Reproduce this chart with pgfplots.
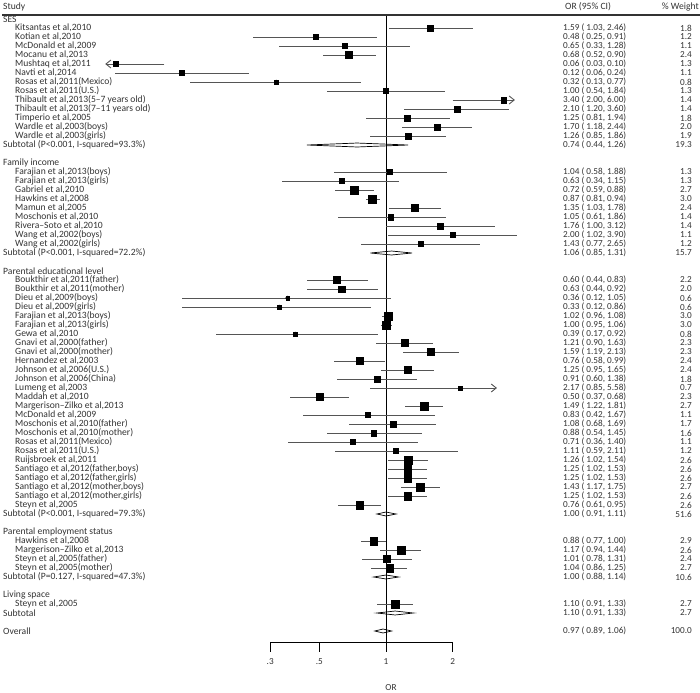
\documentclass[border=0pt]{standalone}
\usepackage{pgfplots}
\pgfplotsset{compat=1.18}
\usepackage{pgfplotstable}
\usepackage{fontspec}
\setmainfont{Carlito}
\usetikzlibrary{arrows.meta}
\definecolor{txt}{HTML}{333333}
\definecolor{ci}{HTML}{555555}
\newcommand\fs{\fontsize{9.2bp}{10bp}\selectfont}
\newcommand\fl{\fontsize{9.6bp}{10bp}\selectfont}

% row = line number in the forest plot (0 = header)
\pgfplotstableread{
row or lo hi w
2 1.59 1.03 2.46 1.8
3 0.48 0.25 0.91 1.2
4 0.65 0.33 1.28 1.1
5 0.68 0.52 0.90 2.4
6 0.06 0.03 0.10 1.3
7 0.12 0.06 0.24 1.1
8 0.32 0.13 0.77 0.8
9 1.00 0.54 1.84 1.3
10 3.40 2.00 6.00 1.4
11 2.10 1.20 3.60 1.4
12 1.25 0.81 1.94 1.8
13 1.70 1.18 2.44 2.0
14 1.26 0.85 1.86 1.9
18 1.04 0.58 1.88 1.3
19 0.63 0.34 1.15 1.3
20 0.72 0.59 0.88 2.7
21 0.87 0.81 0.94 3.0
22 1.35 1.03 1.78 2.4
23 1.05 0.61 1.86 1.4
24 1.76 1.00 3.12 1.4
25 2.00 1.02 3.90 1.1
26 1.43 0.77 2.65 1.2
30 0.60 0.44 0.83 2.2
31 0.63 0.44 0.92 2.0
32 0.36 0.12 1.05 0.6
33 0.33 0.12 0.86 0.6
34 1.02 0.96 1.08 3.0
35 1.00 0.95 1.06 3.0
36 0.39 0.17 0.92 0.8
37 1.21 0.90 1.63 2.3
38 1.59 1.19 2.13 2.3
39 0.76 0.58 0.99 2.4
40 1.25 0.95 1.65 2.4
41 0.91 0.60 1.38 1.8
42 2.17 0.85 5.58 0.7
43 0.50 0.37 0.68 2.3
44 1.49 1.22 1.81 2.7
45 0.83 0.42 1.67 1.1
46 1.08 0.68 1.69 1.7
47 0.88 0.54 1.45 1.6
48 0.71 0.36 1.40 1.1
49 1.11 0.59 2.11 1.2
50 1.26 1.02 1.54 2.6
51 1.25 1.02 1.53 2.6
52 1.25 1.02 1.53 2.6
53 1.43 1.17 1.75 2.7
54 1.25 1.02 1.53 2.6
55 0.76 0.61 0.95 2.6
59 0.88 0.77 1.00 2.9
60 1.17 0.94 1.44 2.6
61 1.01 0.78 1.31 2.4
62 1.04 0.86 1.25 2.7
66 1.10 0.91 1.33 2.7
}\studies

\begin{document}
\begin{tikzpicture}
\path[use as bounding box] (0,0) rectangle (700bp,693bp);
\begin{axis}[at={(0,0)}, anchor=south west, scale only axis,
  width=700bp, height=693bp, xmode=log, xmin=0.018089, xmax=26.16,
  ymin=-1.1111, ymax=75.8889, y dir=reverse, hide axis, clip=false]
% pooled diamonds
\addplot[draw=black, fill=white, line width=0.7bp] coordinates {(0.44,15)(0.74,14.78)(1.26,15)(0.74,15.22)} -- cycle;
\addplot[draw=black, fill=white, line width=0.7bp] coordinates {(0.85,27)(1.06,26.78)(1.31,27)(1.06,27.22)} -- cycle;
\addplot[draw=black, fill=white, line width=0.7bp] coordinates {(0.91,56)(1.00,55.78)(1.11,56)(1.00,56.22)} -- cycle;
\addplot[draw=black, fill=white, line width=0.7bp] coordinates {(0.88,63)(1.00,62.78)(1.14,63)(1.00,63.22)} -- cycle;
\addplot[draw=black, fill=white, line width=0.7bp] coordinates {(0.91,67)(1.10,66.78)(1.33,67)(1.10,67.22)} -- cycle;
\addplot[draw=black, fill=white, line width=0.7bp] coordinates {(0.89,69)(0.97,68.78)(1.06,69)(0.97,69.22)} -- cycle;
% line of no effect
\addplot[black, line width=0.9bp] coordinates {(1,0.556)(1,70.22)};
% confidence intervals
\addplot[only marks, mark=none,
  skip coords between index={4}{5}, skip coords between index={8}{9},
  skip coords between index={34}{35},
  error bars/.cd, x dir=both, x explicit, error mark=none,
  error bar style={draw=ci, line width=0.9bp}]
  table[x=or, y=row, x error plus expr=\thisrow{hi}-\thisrow{or},
        x error minus expr=\thisrow{or}-\thisrow{lo}] {\studies};
% truncated intervals
\addplot[ci, line width=0.9bp, -{Straight Barb[length=5bp,width=8bp]}] coordinates {(0.10,6)(0.054,6)};
\addplot[ci, line width=0.9bp, -{Straight Barb[length=5bp,width=8bp]}] coordinates {(2.00,10)(3.82,10)};
\addplot[ci, line width=0.9bp, -{Straight Barb[length=5bp,width=8bp]}] coordinates {(0.85,42)(3.17,42)};
% study squares
\addplot[scatter, only marks, mark=square*,
  scatter/use mapped color={draw=black, fill=black},
  visualization depends on={2.3*sqrt(\thisrow{w}) \as \msz},
  scatter/@pre marker code/.append style={/tikz/mark size=\msz},
  point meta=\thisrow{w}] table[x=or, y=row] {\studies};
\end{axis}

\begin{axis}[at={(270.18bp,51bp)}, anchor=south west, scale only axis,
  width=182.5bp, height=10bp, xmode=log, xmin=0.3, xmax=2, ymin=0, ymax=1,
  axis x line*=bottom, hide y axis, x axis line style={-, line width=0.9bp},
  xtick={0.3,0.5,1,2}, xticklabels={.3,.5,1,2}, xminorticks=false,
  tick align=outside, major tick length=10bp,
  tick style={black, line width=0.9bp},
  ticklabel style={font=\fs, text=txt}, xticklabel style={yshift=-3.5bp}]
\addplot[draw=none] coordinates {(1,0.5)};
\end{axis}

\begin{scope}[x=1bp, y=-9bp, shift={(0,683bp)}, every node/.style={inner sep=0pt, text=txt, font=\fl}]
\draw[black!80, line width=1.2bp] (2,0.556) -- (700,0.556);
\node[anchor=west] at (3,-0.33) {Study};
\node[anchor=west] at (565,-0.33) {OR (95\% CI)};
\node[anchor=east] at (699,-0.33) {\% Weight};
% group headers / subtotals
\node[anchor=west] at (3,1) {SES};
\node[anchor=west] at (3,15) {Subtotal (P<0.001, I-squared=93.3\%)};
\node[anchor=west] at (3,17) {Family income};
\node[anchor=west] at (3,27) {Subtotal (P<0.001, I-squared=72.2\%)};
\node[anchor=west] at (3,29) {Parental educational level};
\node[anchor=west] at (3,56) {Subtotal (P<0.001, I-squared=79.3\%)};
\node[anchor=west] at (3,58) {Parental employment status};
\node[anchor=west] at (3,63) {Subtotal (P=0.127, I-squared=47.3\%)};
\node[anchor=west] at (3,65) {Living space};
\node[anchor=west] at (3,67) {Subtotal};
\node[anchor=west] at (3,69) {Overall};
% studies
\node[anchor=west] at (15,2) {Kitsantas et al,2010};
\node[anchor=west] at (15,3) {Kotian et al,2010};
\node[anchor=west] at (15,4) {McDonald et al,2009};
\node[anchor=west] at (15,5) {Mocanu et al,2013};
\node[anchor=west] at (15,6) {Mushtaq et al,2011};
\node[anchor=west] at (15,7) {Navti et al,2014};
\node[anchor=west] at (15,8) {Rosas et al,2011(Mexico)};
\node[anchor=west] at (15,9) {Rosas et al,2011(U.S.)};
\node[anchor=west] at (15,10) {Thibault et al,2013(5–7 years old)};
\node[anchor=west] at (15,11) {Thibault et al,2013(7–11 years old)};
\node[anchor=west] at (15,12) {Timperio et al,2005};
\node[anchor=west] at (15,13) {Wardle et al,2003(boys)};
\node[anchor=west] at (15,14) {Wardle et al,2003(girls)};
\node[anchor=west] at (15,18) {Farajian et al,2013(boys)};
\node[anchor=west] at (15,19) {Farajian et al,2013(girls)};
\node[anchor=west] at (15,20) {Gabriel et al,2010};
\node[anchor=west] at (15,21) {Hawkins et al,2008};
\node[anchor=west] at (15,22) {Mamun et al,2005};
\node[anchor=west] at (15,23) {Moschonis et al,2010};
\node[anchor=west] at (15,24) {Rivera–Soto et al,2010};
\node[anchor=west] at (15,25) {Wang et al,2002(boys)};
\node[anchor=west] at (15,26) {Wang et al,2002(girls)};
\node[anchor=west] at (15,30) {Boukthir et al,2011(father)};
\node[anchor=west] at (15,31) {Boukthir et al,2011(mother)};
\node[anchor=west] at (15,32) {Dieu et al,2009(boys)};
\node[anchor=west] at (15,33) {Dieu et al,2009(girls)};
\node[anchor=west] at (15,34) {Farajian et al,2013(boys)};
\node[anchor=west] at (15,35) {Farajian et al,2013(girls)};
\node[anchor=west] at (15,36) {Gewa et al,2010};
\node[anchor=west] at (15,37) {Gnavi et al,2000(father)};
\node[anchor=west] at (15,38) {Gnavi et al,2000(mother)};
\node[anchor=west] at (15,39) {Hernandez et al,2003};
\node[anchor=west] at (15,40) {Johnson et al,2006(U.S.)};
\node[anchor=west] at (15,41) {Johnson et al,2006(China)};
\node[anchor=west] at (15,42) {Lumeng et al,2003};
\node[anchor=west] at (15,43) {Maddah et al,2010};
\node[anchor=west] at (15,44) {Margerison–Zilko et al,2013};
\node[anchor=west] at (15,45) {McDonald et al,2009};
\node[anchor=west] at (15,46) {Moschonis et al,2010(father)};
\node[anchor=west] at (15,47) {Moschonis et al,2010(mother)};
\node[anchor=west] at (15,48) {Rosas et al,2011(Mexico)};
\node[anchor=west] at (15,49) {Rosas et al,2011(U.S.)};
\node[anchor=west] at (15,50) {Ruijsbroek et al,2011};
\node[anchor=west] at (15,51) {Santiago et al,2012(father,boys)};
\node[anchor=west] at (15,52) {Santiago et al,2012(father,girls)};
\node[anchor=west] at (15,53) {Santiago et al,2012(mother,boys)};
\node[anchor=west] at (15,54) {Santiago et al,2012(mother,girls)};
\node[anchor=west] at (15,55) {Steyn et al,2005};
\node[anchor=west] at (15,59) {Hawkins et al,2008};
\node[anchor=west] at (15,60) {Margerison–Zilko et al,2013};
\node[anchor=west] at (15,61) {Steyn et al,2005(father)};
\node[anchor=west] at (15,62) {Steyn et al,2005(mother)};
\node[anchor=west] at (15,66) {Steyn et al,2005};
% OR (95% CI) and weights
\foreach \r/\v/\w in {2/{1.59 ( 1.03, 2.46)}/1.8, 3/{0.48 ( 0.25, 0.91)}/1.2, 4/{0.65 ( 0.33, 1.28)}/1.1,
 5/{0.68 ( 0.52, 0.90)}/2.4, 6/{0.06 ( 0.03, 0.10)}/1.3, 7/{0.12 ( 0.06, 0.24)}/1.1,
 8/{0.32 ( 0.13, 0.77)}/0.8, 9/{1.00 ( 0.54, 1.84)}/1.3, 10/{3.40 ( 2.00, 6.00)}/1.4,
 11/{2.10 ( 1.20, 3.60)}/1.4, 12/{1.25 ( 0.81, 1.94)}/1.8, 13/{1.70 ( 1.18, 2.44)}/2.0,
 14/{1.26 ( 0.85, 1.86)}/1.9, 15/{0.74 ( 0.44, 1.26)}/19.3,
 18/{1.04 ( 0.58, 1.88)}/1.3, 19/{0.63 ( 0.34, 1.15)}/1.3, 20/{0.72 ( 0.59, 0.88)}/2.7,
 21/{0.87 ( 0.81, 0.94)}/3.0, 22/{1.35 ( 1.03, 1.78)}/2.4, 23/{1.05 ( 0.61, 1.86)}/1.4,
 24/{1.76 ( 1.00, 3.12)}/1.4, 25/{2.00 ( 1.02, 3.90)}/1.1, 26/{1.43 ( 0.77, 2.65)}/1.2,
 27/{1.06 ( 0.85, 1.31)}/15.7,
 30/{0.60 ( 0.44, 0.83)}/2.2, 31/{0.63 ( 0.44, 0.92)}/2.0, 32/{0.36 ( 0.12, 1.05)}/0.6,
 33/{0.33 ( 0.12, 0.86)}/0.6, 34/{1.02 ( 0.96, 1.08)}/3.0, 35/{1.00 ( 0.95, 1.06)}/3.0,
 36/{0.39 ( 0.17, 0.92)}/0.8, 37/{1.21 ( 0.90, 1.63)}/2.3, 38/{1.59 ( 1.19, 2.13)}/2.3,
 39/{0.76 ( 0.58, 0.99)}/2.4, 40/{1.25 ( 0.95, 1.65)}/2.4, 41/{0.91 ( 0.60, 1.38)}/1.8,
 42/{2.17 ( 0.85, 5.58)}/0.7, 43/{0.50 ( 0.37, 0.68)}/2.3, 44/{1.49 ( 1.22, 1.81)}/2.7,
 45/{0.83 ( 0.42, 1.67)}/1.1, 46/{1.08 ( 0.68, 1.69)}/1.7, 47/{0.88 ( 0.54, 1.45)}/1.6,
 48/{0.71 ( 0.36, 1.40)}/1.1, 49/{1.11 ( 0.59, 2.11)}/1.2, 50/{1.26 ( 1.02, 1.54)}/2.6,
 51/{1.25 ( 1.02, 1.53)}/2.6, 52/{1.25 ( 1.02, 1.53)}/2.6, 53/{1.43 ( 1.17, 1.75)}/2.7,
 54/{1.25 ( 1.02, 1.53)}/2.6, 55/{0.76 ( 0.61, 0.95)}/2.6, 56/{1.00 ( 0.91, 1.11)}/51.6,
 59/{0.88 ( 0.77, 1.00)}/2.9, 60/{1.17 ( 0.94, 1.44)}/2.6, 61/{1.01 ( 0.78, 1.31)}/2.4,
 62/{1.04 ( 0.86, 1.25)}/2.7, 63/{1.00 ( 0.88, 1.14)}/10.6,
 66/{1.10 ( 0.91, 1.33)}/2.7, 67/{1.10 ( 0.91, 1.33)}/2.7, 69/{0.97 ( 0.89, 1.06)}/100.0}{
  \node[anchor=west, font=\fs] at (563,\r) {\v};
  \node[anchor=east, font=\fs] at (692,\r) {\w};
}
\node[font=\fs] at (391,75.33) {OR};
\end{scope}
\end{tikzpicture}
\end{document}
